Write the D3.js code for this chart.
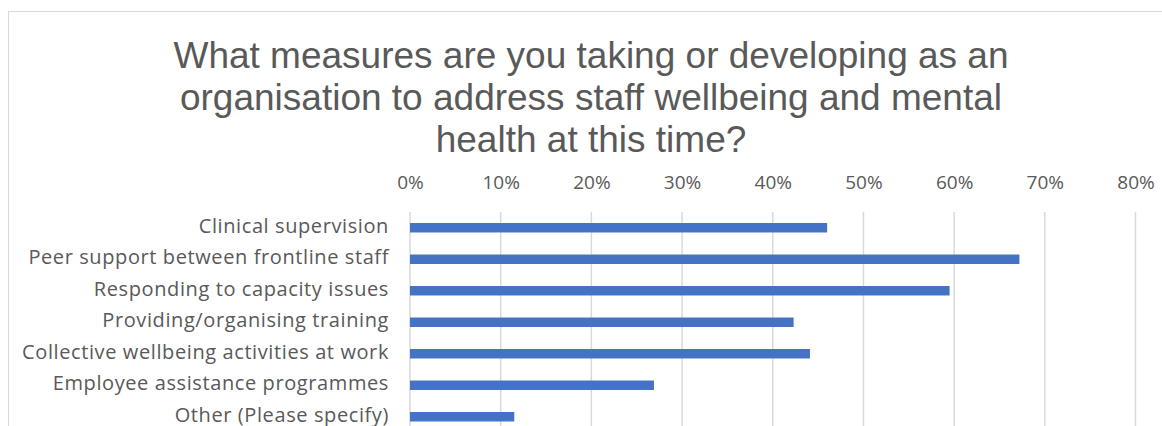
<!DOCTYPE html>
<html>
<head>
<meta charset="utf-8">
<script src="https://cdn.jsdelivr.net/npm/d3@7"></script>
<style>
  html, body { margin: 0; padding: 0; background: #ffffff; }
  svg { display: block; }
</style>
</head>
<body>
<div id="chart"></div>
<script>
// Survey responses: share of organisations taking each measure
const categories = [
  "Clinical supervision",
  "Peer support between frontline staff",
  "Responding to capacity issues",
  "Providing/organising training",
  "Collective wellbeing activities at work",
  "Employee assistance programmes",
  "Other (Please specify)"
];
const values = [0.46, 0.672, 0.595, 0.423, 0.441, 0.269, 0.115];
const tickValues = [0, 0.1, 0.2, 0.3, 0.4, 0.5, 0.6, 0.7, 0.8];
const titleLines = [
  "What measures are you taking or developing as an",
  "organisation to address staff wellbeing and mental",
  "health at this time?"
];

const width = 1162, height = 426;
const svg = d3.select("#chart").append("svg")
  .attr("width", width).attr("height", height);

// chart area frame (continues past the visible edges)
svg.append("rect")
  .attr("x", 8.5).attr("y", 11.5)
  .attr("width", 1200).attr("height", 500)
  .attr("fill", "#ffffff").attr("stroke", "#d9d9d9").attr("stroke-width", 1);

// title
const title = svg.append("text")
  .attr("x", 591)
  .attr("text-anchor", "middle")
  .attr("font-family", "'Liberation Sans', Arial, sans-serif")
  .attr("font-size", 37)
  .attr("fill", "#595959");
title.selectAll("tspan").data(titleLines).join("tspan")
  .attr("x", 591)
  .attr("y", (d, i) => 68 + i * 42)
  .text(d => d);

const x = d3.scaleLinear().domain([0, 0.8]).range([410, 1135.5]);
const y = d3.scaleBand().domain(categories).range([212, 432.5]).paddingInner(0.7).paddingOuter(0.35);

// vertical gridlines
svg.append("g").selectAll("line").data(tickValues).join("line")
  .attr("x1", d => x(d)).attr("x2", d => x(d))
  .attr("y1", 212).attr("y2", 440)
  .attr("stroke", "#d9d9d9").attr("stroke-width", 1.5);

// top value axis (labels only)
const xAxis = d3.axisTop(x).tickValues(tickValues).tickFormat(d3.format(".0%")).tickSize(0).tickPadding(0);
const gx = svg.append("g").attr("transform", "translate(0,189)").call(xAxis);
gx.select(".domain").remove();
gx.selectAll("text")
  .attr("font-family", "'Open Sans', sans-serif")
  .attr("font-size", 19)
  .attr("fill", "#595959")
  .attr("dy", 0);

// bars
svg.append("g").selectAll("rect").data(values).join("rect")
  .attr("x", x(0))
  .attr("y", (d, i) => y(categories[i]))
  .attr("width", d => x(d) - x(0))
  .attr("height", y.bandwidth())
  .attr("fill", "#4472c4");

// category axis (labels only)
const yAxis = d3.axisLeft(y).tickSize(0).tickPadding(0);
const gy = svg.append("g").attr("transform", "translate(389,0)").call(yAxis);
gy.select(".domain").remove();
gy.selectAll("text")
  .attr("font-family", "'Open Sans', sans-serif")
  .attr("font-size", 20)
  .attr("letter-spacing", 0.6)
  .attr("dy", "0.25em")
  .attr("fill", "#595959");
</script>
</body>
</html>
